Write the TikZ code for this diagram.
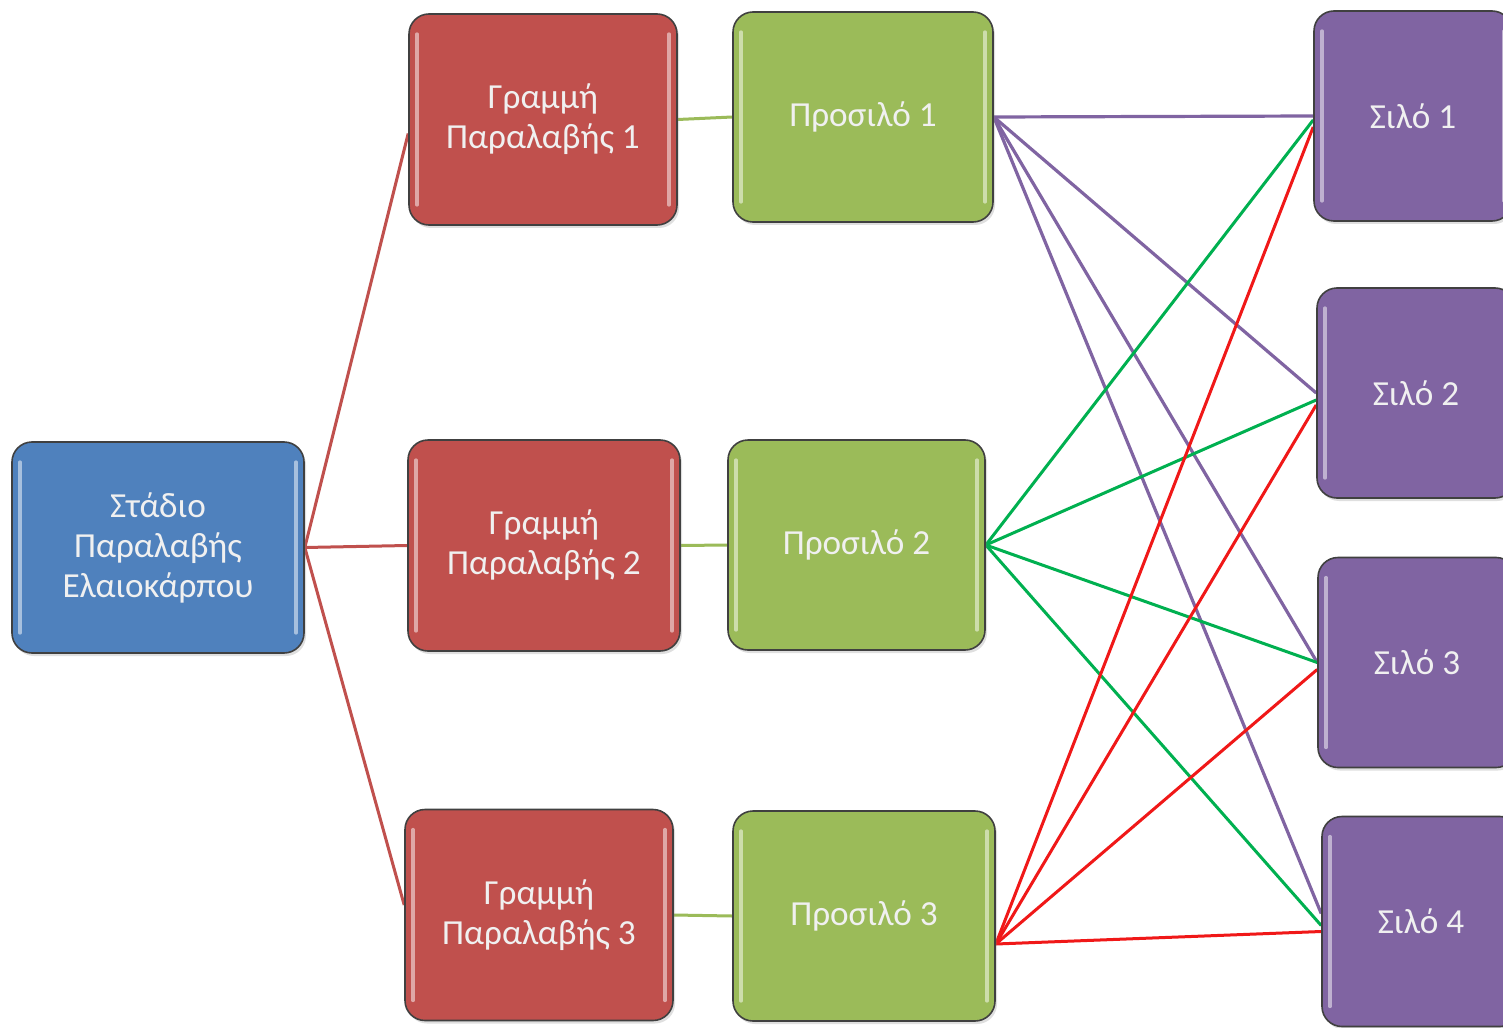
\documentclass[tikz,border=0pt]{standalone}
\usepackage{fontspec}
\setmainfont{Carlito}
\usetikzlibrary{shadows,backgrounds}

\definecolor{stageblue}{HTML}{4F81BD}
\definecolor{linered}{HTML}{C0504D}
\definecolor{preolive}{HTML}{9BBB59}
\definecolor{silopurple}{HTML}{8064A2}
\definecolor{flowgreen}{HTML}{00B050}
\definecolor{flowred}{HTML}{F01818}

\tikzset{
  box/.style={
    draw=black!75, line width=0.8pt, rounded corners=10pt,
    text=white!94!black, align=center, inner sep=0pt,
    font=\fontsize{17.6}{20}\selectfont,
    drop shadow={shadow xshift=1pt, shadow yshift=-1.5pt, opacity=0.25},
    path picture={
      \draw[white, opacity=0.5, line width=1.6pt, line cap=round]
        ([xshift=4pt,yshift=-10pt]path picture bounding box.north west) --
        ([xshift=4pt,yshift=10pt]path picture bounding box.south west);
      \draw[white, opacity=0.5, line width=1.6pt, line cap=round]
        ([xshift=-4pt,yshift=-10pt]path picture bounding box.north east) --
        ([xshift=-4pt,yshift=10pt]path picture bounding box.south east);
    }},
  stagebox/.style={box, fill=stageblue, minimum width=146pt, minimum height=105.5pt},
  linebox/.style={box, fill=linered, minimum width=134pt, minimum height=105.5pt},
  prebox/.style={box, fill=preolive, minimum width=130pt, minimum height=105pt},
  silobox/.style={box, fill=silopurple, minimum width=99pt, minimum height=105pt},
  feed/.style={line width=1.5pt, draw=linered},
  short/.style={line width=1.5pt, draw=preolive},
  fromone/.style={line width=1.6pt, draw=silopurple},
  fromtwo/.style={line width=1.5pt, draw=flowgreen},
  fromthree/.style={line width=1.5pt, draw=flowred},
}

\begin{document}
\begin{tikzpicture}[x=0.5pt, y=-0.5pt]
  \clip (0,0) rectangle (1503,1027);

  % boxes
  \node[stagebox] (st) at (158,547.5) {Στάδιο\\Παραλαβής\\Ελαιοκάρπου};
  \node[linebox] (r1) at (543,119.5) {Γραμμή\\Παραλαβής 1};
  \node[linebox, minimum width=136pt] (r2) at (544,545.5) {Γραμμή\\Παραλαβής 2};
  \node[linebox] (r3) at (539,915) {Γραμμή\\Παραλαβής 3};
  \node[prebox] (g1) at (863,117) {Προσιλό 1};
  \node[prebox, minimum width=128.5pt] (g2) at (856.5,545) {Προσιλό 2};
  \node[prebox, minimum width=131pt] (g3) at (864,916) {Προσιλό 3};
  \node[silobox] (p1) at (1413,116) {Σιλό 1};
  \node[silobox] (p2) at (1416,393) {Σιλό 2};
  \node[silobox] (p3) at (1417,662.5) {Σιλό 3};
  \node[silobox] (p4) at (1421,921.5) {Σιλό 4};

  \begin{scope}[on background layer]
    \fill[white] (0,0) rectangle (1503,1027);

    % receiving stage to the three receiving lines
    \draw[feed] (st.east) -- ([yshift=-7pt]r1.west);
    \draw[feed] (st.east) -- (r2.west);
    \draw[feed] (st.east) -- ([yshift=5pt]r3.west);

    % receiving lines to pre-silos
    \draw[short] (r1.east) -- (g1.west);
    \draw[short] (r2.east) -- (g2.west);
    \draw[short] (r3.east) -- (g3.west);

    % pre-silo 1 to every silo
    \draw[fromone] (g1.east) -- (p1.west);
    \draw[fromone] (g1.east) -- (p2.west);
    \draw[fromone] (g1.east) -- (p3.west);
    \draw[fromone] (g1.east) -- ([yshift=4pt]p4.west);

    % pre-silo 2 to every silo
    \draw[fromtwo] (g2.east) -- ([yshift=-2pt]p1.west);
    \draw[fromtwo] (g2.east) -- ([yshift=-3.5pt]p2.west);
    \draw[fromtwo] (g2.east) -- (p3.west);
    \draw[fromtwo] (g2.east) -- ([yshift=-2pt]p4.west);

    % pre-silo 3 to every silo
    \draw[fromthree] ([yshift=-14pt]g3.east) -- ([yshift=-5.5pt]p1.west);
    \draw[fromthree] ([yshift=-14pt]g3.east) -- ([yshift=-6pt]p2.west);
    \draw[fromthree] ([yshift=-14pt]g3.east) -- ([yshift=-3.5pt]p3.west);
    \draw[fromthree] ([yshift=-14pt]g3.east) -- ([yshift=-5pt]p4.west);
  \end{scope}
\end{tikzpicture}
\end{document}
